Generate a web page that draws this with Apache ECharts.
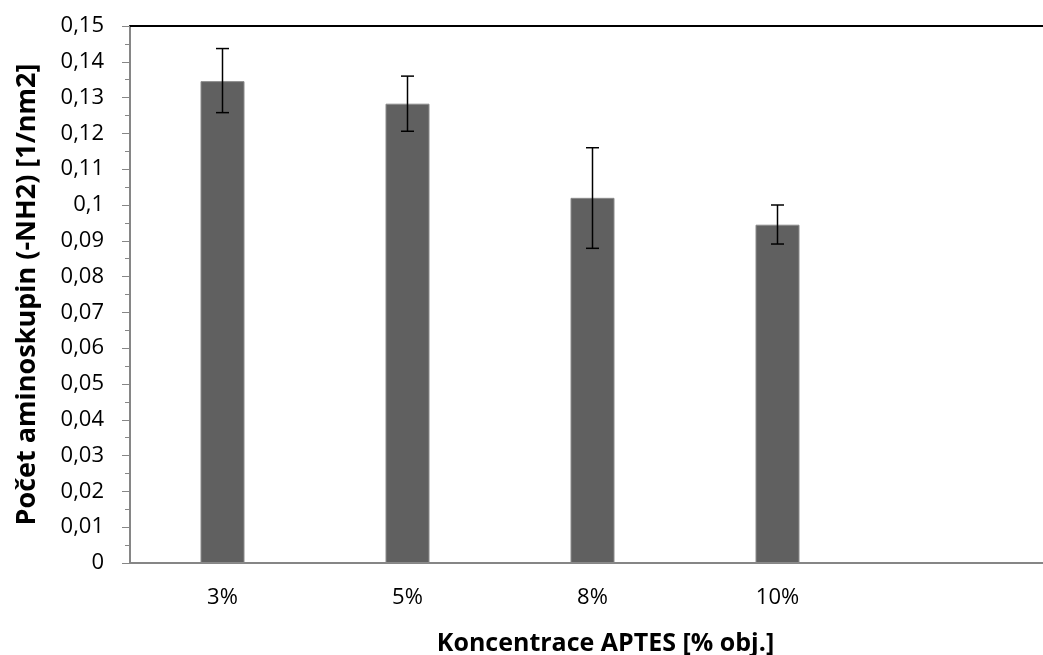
<!DOCTYPE html>
<html><head><meta charset="utf-8">
<script src="https://cdn.jsdelivr.net/npm/echarts@6/dist/echarts.min.js"></script>
<style>html,body{margin:0;padding:0;background:#fff}#c{width:1043px;height:655px}</style>
</head><body><div id="c"></div>
<script>
const categories = ['3%', '5%', '8%', '10%', ''];
const values = [0.1346, 0.1283, 0.1020, 0.0945, null];
const errLow = [0.1258, 0.1206, 0.0879, 0.0891, null];
const errHigh = [0.1437, 0.1360, 0.1160, 0.1000, null];
const xTitle = 'Koncentrace APTES [% obj.]';
const yTitle = 'Počet aminoskupin (-NH2) [1/nm2]';

const FONT = 'Open Sans';
const chart = echarts.init(document.getElementById('c'), null, {renderer: 'canvas'});
const errData = categories.map((c, i) => [i, errLow[i], errHigh[i]]).filter(d => d[1] != null);
chart.setOption({
  animation: false,
  backgroundColor: '#fff',
  grid: {left: 130, top: 26, width: 925, height: 537, containLabel: false, outerBoundsMode: 'none'},
  xAxis: [{
    type: 'category', data: categories,
    axisLine: {lineStyle: {color: '#868686', width: 2}},
    axisTick: {show: false},
    axisLabel: {color: '#000', fontFamily: FONT, fontSize: 22, margin: 24},
    name: xTitle, nameLocation: 'middle', nameGap: 68,
    nameTextStyle: {color: '#000', fontFamily: FONT, fontSize: 25, fontWeight: 'bold', padding: [0, 0, 0, 26]}
  }, {
    type: 'category', data: categories, position: 'top',
    axisLine: {lineStyle: {color: '#000', width: 2}},
    axisTick: {show: false}, axisLabel: {show: false}
  }],
  yAxis: {
    type: 'value', min: 0, max: 0.15, interval: 0.01,
    axisLine: {show: true, lineStyle: {color: '#868686', width: 2}},
    axisTick: {show: true, length: 8, lineStyle: {color: '#868686', width: 1}},
    minorTick: {show: true, splitNumber: 2, length: 5, lineStyle: {color: '#868686'}},
    splitLine: {show: false},
    axisLabel: {color: '#000', fontFamily: FONT, fontSize: 22, margin: 26,
      formatter: v => String(Math.round(v * 100) / 100).replace('.', ',')},
    name: yTitle, nameLocation: 'middle', nameGap: 89,
    nameTextStyle: {color: '#000', fontFamily: FONT, fontSize: 27, fontWeight: 'bold'}
  },
  series: [{
    type: 'bar', data: values, barWidth: 44,
    itemStyle: {color: '#606060', borderColor: '#8a8a8a', borderWidth: 1}
  }, {
    type: 'custom', data: errData, z: 10,
    renderItem: (params, api) => {
      const x = api.value(0);
      const lo = api.coord([x, api.value(1)]);
      const hi = api.coord([x, api.value(2)]);
      const w = 6.5;
      const st = {stroke: '#000', lineWidth: 1.5};
      return {type: 'group', children: [
        {type: 'line', shape: {x1: lo[0], y1: lo[1], x2: hi[0], y2: hi[1]}, style: st},
        {type: 'line', shape: {x1: lo[0] - w, y1: lo[1], x2: lo[0] + w, y2: lo[1]}, style: st},
        {type: 'line', shape: {x1: hi[0] - w, y1: hi[1], x2: hi[0] + w, y2: hi[1]}, style: st}
      ]};
    }
  }]
});
</script></body></html>
